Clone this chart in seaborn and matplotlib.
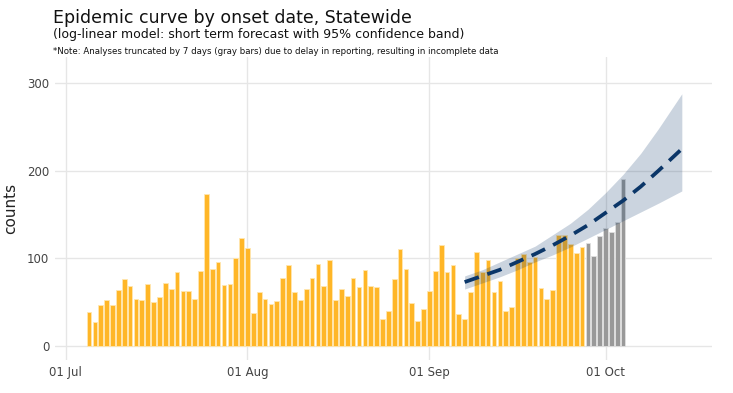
import numpy as np
import pandas as pd
import matplotlib
matplotlib.use("Agg")
import matplotlib.pyplot as plt
import matplotlib.dates as mdates
import seaborn as sns

# Daily case counts by onset date
start_date = "2020-07-05"
counts = [39, 27, 47, 52, 47, 64, 76, 68, 54, 52, 71, 50, 56, 72, 65, 85, 63, 63, 54, 86,
          173, 88, 96, 70, 71, 100, 123,
          112, 38, 62, 54, 48, 51, 78, 93, 62, 52, 65, 78, 94, 68, 98, 52, 65, 57, 78, 67,
          87, 69, 67, 31, 40, 77, 111, 88, 49, 28, 42,
          63, 86, 115, 85, 92, 36, 31, 62, 107, 84, 98, 62, 74, 40, 44, 101, 105, 96, 102,
          66, 54, 64, 127, 127, 116, 106, 113,
          118, 103, 126, 135, 130, 142, 191]
n_gray = 7  # last 7 days truncated (incomplete reporting)

# log-linear forecast with 95% band
fc_dates = ["2020-09-07", "2020-09-10", "2020-09-13", "2020-09-16", "2020-09-19",
            "2020-09-22", "2020-09-25", "2020-09-28", "2020-10-01", "2020-10-04",
            "2020-10-07", "2020-10-10", "2020-10-14"]
fc_mid = [73, 80, 87, 96, 105, 115, 126, 138, 152, 166, 182, 200, 225]
fc_upper = [80, 87, 96, 105, 114, 127, 140, 156, 175, 196, 220, 248, 288]
fc_lower = [65, 72, 79, 87, 96, 104, 113, 123, 133, 143, 153, 163, 177]

tick_dates = ["2020-07-01", "2020-08-01", "2020-09-01", "2020-10-01"]
tick_labels = ["01 Jul", "01 Aug", "01 Sep", "01 Oct"]

sns.set_theme(style="whitegrid")
plt.rcParams["font.family"] = ["DejaVu Sans"]

dates = pd.date_range(start_date, periods=len(counts), freq="D")
x_num = mdates.date2num(dates)
df = pd.DataFrame({"x": x_num, "counts": counts})
df_orange = df.iloc[:-n_gray]
df_gray = df.iloc[-n_gray:]

fc = pd.DataFrame({"x": mdates.date2num(pd.to_datetime(fc_dates)),
                   "mid": fc_mid, "lo": fc_lower, "hi": fc_upper})

fig = plt.figure(figsize=(7.33, 3.93), dpi=100)
ax = fig.add_axes([0.075, 0.084, 0.896, 0.771])

ax.bar(df_orange["x"], df_orange["counts"], width=0.8, color="#FFB627",
       edgecolor="#FFE7B0", linewidth=0.6, zorder=2)
ax.bar(df_gray["x"], df_gray["counts"], width=0.8, color="#999999",
       edgecolor="#E0E0E0", linewidth=0.6, zorder=2)

ax.fill_between(fc["x"], fc["lo"], fc["hi"], color="#0B3668", alpha=0.21,
                linewidth=0, zorder=3)
sns.lineplot(data=fc, x="x", y="mid", ax=ax, color="#0B3668", linewidth=2.7,
             linestyle=(0, (4, 2.4)), zorder=4)

x0 = mdates.date2num(pd.Timestamp("2020-07-01"))
ax.set_xlim(x0 - 1.8, x0 + 110.1)
ax.set_ylim(-16, 330)
ax.set_xticks(mdates.date2num(pd.to_datetime(tick_dates)))
ax.set_xticklabels(tick_labels)
ax.set_yticks([0, 100, 200, 300])
ax.tick_params(axis="both", length=0, labelsize=8.5, labelcolor="#444444", pad=4)
ax.grid(True, color="#E6E6E6", linewidth=1)
for s in ax.spines.values():
    s.set_visible(False)
ax.set_xlabel("")
ax.set_ylabel("counts", fontsize=11, color="#222222")
ax.yaxis.set_label_coords(-0.056, 0.5)

fig.text(0.072, 0.954, "Epidemic curve by onset date, Statewide", fontsize=12.5,
         va="center", ha="left", color="#111111")
fig.text(0.072, 0.913, "(log-linear model: short term forecast with 95% confidence band)",
         fontsize=9.0, va="center", ha="left", color="#111111")
fig.text(0.072, 0.868, "*Note: Analyses truncated by 7 days (gray bars) due to delay in "
         "reporting, resulting in incomplete data", fontsize=6.2, va="center", ha="left",
         color="#111111")

fig.savefig("out.png", dpi=100)
